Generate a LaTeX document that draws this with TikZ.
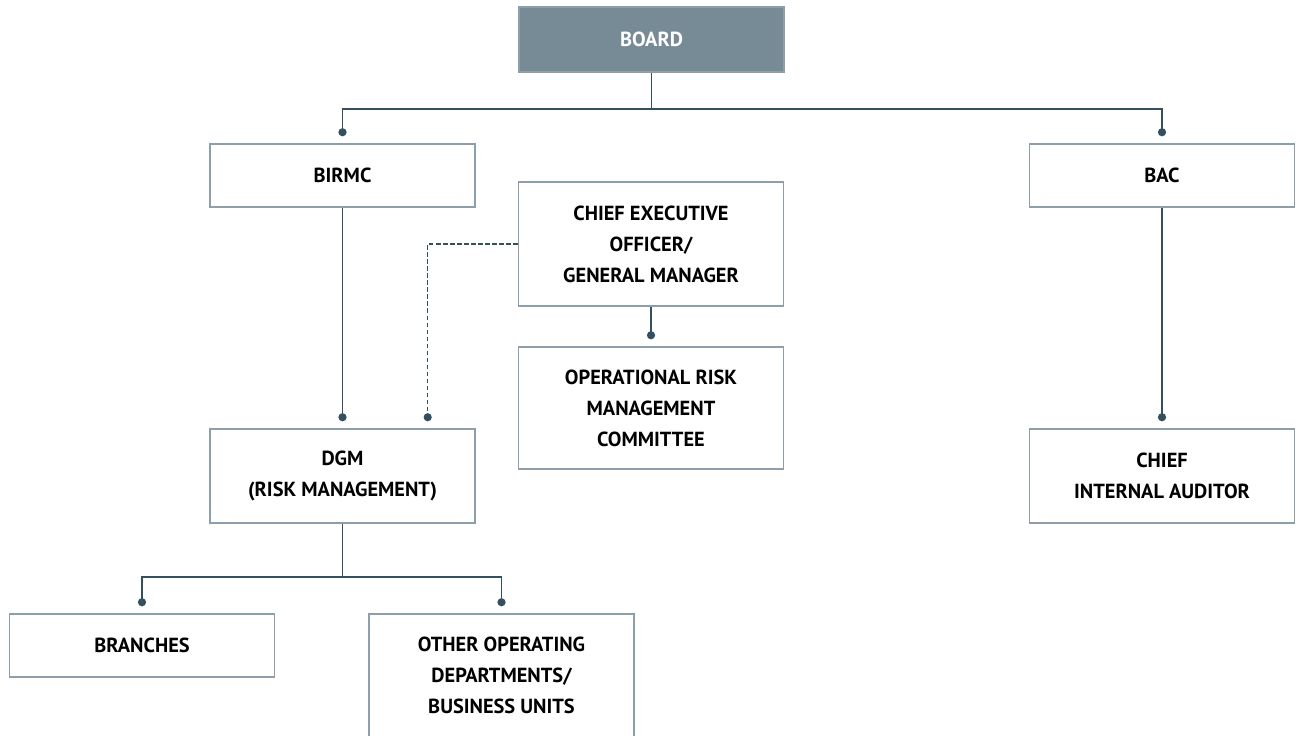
\documentclass[tikz,border=0pt]{standalone}
\usepackage{fontspec}
\setmainfont{PT Sans}
\usetikzlibrary{arrows.meta}
\definecolor{boardfill}{HTML}{768B96}
\definecolor{boxline}{HTML}{8E9FAA}
\definecolor{linkline}{HTML}{34505F}

\begin{document}
\begin{tikzpicture}[x=0.02cm, y=-0.02cm,
            box/.style = {rectangle, draw=boxline, line width=0.8pt, minimum width=5.3cm, inner sep=0pt, align=center, font=\bfseries\fontsize{11.6}{17.6}\selectfont},
            link/.style = {draw=linkline, line width=1.1pt},
            dotlink/.style = {link, -{Circle[length=4.6pt]}, shorten >=4pt}]
            \useasboundingbox (0,0) rectangle (1300,736);
            % nodes
            \node (board) [box, fill=boardfill, text=white, minimum height=1.3cm] at (651.5,39.5) {BOARD};
            \node (birmc) [box, minimum height=1.26cm] at (342.5,175.5) {BIRMC};
            \node (bac) [box, minimum height=1.26cm] at (1162,175.5) {BAC};
            \node (ceo) [box, minimum height=2.48cm] at (651,244) {CHIEF EXECUTIVE\\ OFFICER/\\ GENERAL MANAGER};
            \node (ormc) [box, minimum height=2.44cm] at (651,408) {OPERATIONAL RISK\\ MANAGEMENT\\ COMMITTEE};
            \node (dgm) [box, minimum height=1.88cm] at (342.5,476) {DGM\\ (RISK MANAGEMENT)};
            \node (cia) [box, minimum height=1.88cm] at (1162,476) {CHIEF\\ INTERNAL AUDITOR};
            \node (branches) [box, minimum height=1.26cm] at (142,645.5) {BRANCHES};
            \node (other) [box, minimum height=2.46cm] at (501.5,675.5) {OTHER OPERATING\\ DEPARTMENTS/\\ BUSINESS UNITS};
            % Connections
            \draw [dotlink] (board.south) -- ++(0,36) -| (birmc.north);
            \draw [dotlink] (board.south) -- ++(0,36) -| (bac.north);
            \draw [dotlink] (birmc.south) -- (dgm.north);
            \draw [dotlink] (bac.south) -- (cia.north);
            \draw [dotlink] (ceo.south) -- (ormc.north);
            \draw [dotlink, line width=0.8pt, dash pattern=on 2.5pt off 1.5pt] (ceo.west) -| ([xshift=-0.96cm]dgm.north east);
            \draw [dotlink] (dgm.south) -- ++(0,53) -| (branches.north);
            \draw [dotlink] (dgm.south) -- ++(0,53) -| (other.north);
\end{tikzpicture}
\end{document}
